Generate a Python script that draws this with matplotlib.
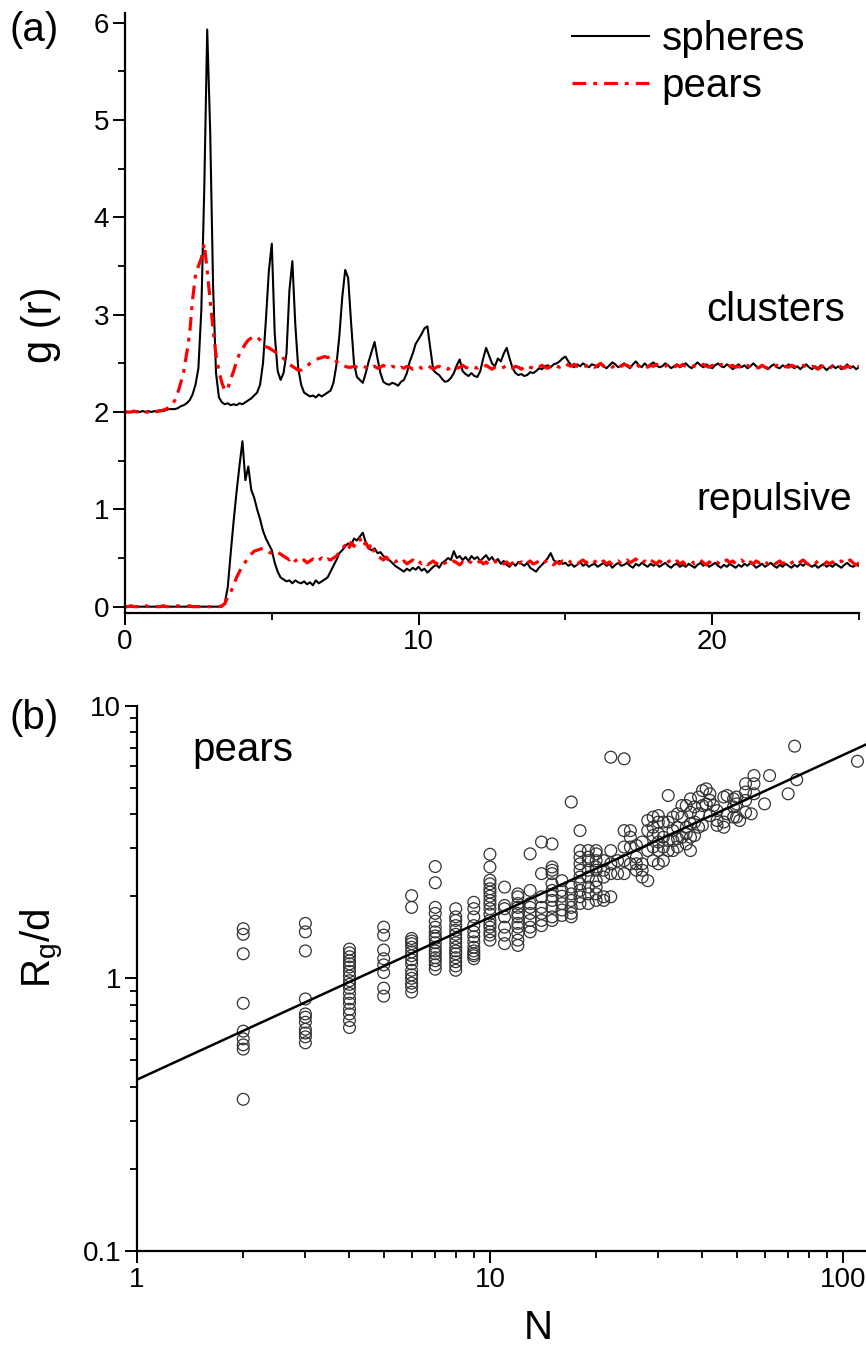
import numpy as np
import matplotlib
matplotlib.use("Agg")
import matplotlib.pyplot as plt
from matplotlib.ticker import MultipleLocator, LogLocator, NullFormatter, FixedLocator, FixedFormatter

plt.rcParams["font.family"] = ["Liberation Sans", "DejaVu Sans"]
plt.rcParams["mathtext.default"] = "regular"

RED = "#ff0000"

# ── (a) g(r), sampled every 0.1 from r = 0 to 25 ─────────────────────────────
r = np.round(np.arange(0, 25.01, 0.1), 2)

g_sph_clu = [
    2.00, 2.00, 2.00, 2.00, 2.01, 2.00, 2.01, 2.00, 2.01, 2.00,
    2.01, 2.00, 2.02, 2.01, 2.02, 2.03, 2.03, 2.03, 2.04, 2.06,
    2.07, 2.09, 2.12, 2.18, 2.28, 2.45, 3.05, 4.30, 5.93, 4.90,
    3.30, 2.40, 2.15, 2.10, 2.08, 2.09, 2.07, 2.08, 2.07, 2.09,
    2.08, 2.10, 2.12, 2.14, 2.17, 2.20, 2.28, 2.50, 2.95, 3.45,
    3.73, 2.80, 2.42, 2.33, 2.40, 2.60, 3.25, 3.55, 2.90, 2.45,
    2.28, 2.20, 2.18, 2.16, 2.17, 2.15, 2.18, 2.16, 2.18, 2.20,
    2.22, 2.30, 2.48, 2.78, 3.18, 3.46, 3.38, 2.92, 2.50, 2.36,
    2.33, 2.30, 2.40, 2.52, 2.62, 2.72, 2.55, 2.40, 2.31, 2.29,
    2.28, 2.30, 2.29, 2.27, 2.31, 2.33, 2.40, 2.52, 2.60, 2.70,
    2.75, 2.80, 2.86, 2.88, 2.65, 2.43, 2.40, 2.38, 2.34, 2.31,
    2.32, 2.35, 2.40, 2.48, 2.54, 2.42, 2.39, 2.37, 2.40, 2.37,
    2.36, 2.42, 2.55, 2.66, 2.58, 2.50, 2.47, 2.55, 2.52, 2.60,
    2.66, 2.55, 2.45, 2.40, 2.38, 2.39, 2.37, 2.38, 2.41, 2.40,
    2.42, 2.45, 2.44, 2.47, 2.48, 2.46, 2.49, 2.50, 2.52, 2.55,
    2.57, 2.52, 2.48, 2.46, 2.49, 2.47, 2.50, 2.48, 2.46, 2.49,
    2.48, 2.46, 2.50, 2.47, 2.45, 2.48, 2.51, 2.49, 2.46, 2.48,
    2.50, 2.47, 2.45, 2.49, 2.52, 2.48, 2.46, 2.50, 2.47, 2.49,
    2.51, 2.48, 2.46, 2.47, 2.50, 2.48, 2.45, 2.47, 2.49, 2.46,
    2.48, 2.50, 2.47, 2.45, 2.48, 2.51, 2.48, 2.46, 2.49, 2.47,
    2.45, 2.48, 2.50, 2.47, 2.46, 2.49, 2.47, 2.44, 2.47, 2.49,
    2.46, 2.48, 2.45, 2.47, 2.50, 2.47, 2.45, 2.48, 2.46, 2.44,
    2.47, 2.49, 2.46, 2.45, 2.48, 2.46, 2.49, 2.47, 2.45, 2.47,
    2.44, 2.47, 2.49, 2.46, 2.44, 2.47, 2.45, 2.48, 2.46, 2.43,
    2.46, 2.48, 2.45, 2.47, 2.44, 2.46, 2.49, 2.45, 2.47, 2.44,
    2.46,
]

g_pear_clu = [
    2.00, 2.00, 2.00, 2.01, 2.00, 2.00, 2.01, 2.00, 2.00, 2.01,
    2.00, 2.01, 2.01, 2.02, 2.03, 2.05, 2.08, 2.12, 2.20, 2.30,
    2.42, 2.60, 2.80, 3.15, 3.40, 3.50, 3.58, 3.73, 3.45, 3.15,
    2.85, 2.58, 2.42, 2.30, 2.22, 2.24, 2.34, 2.42, 2.52, 2.60,
    2.65, 2.70, 2.74, 2.76, 2.78, 2.77, 2.74, 2.70, 2.67, 2.66,
    2.64, 2.62, 2.60, 2.58, 2.55, 2.52, 2.49, 2.47, 2.45, 2.43,
    2.43, 2.45, 2.47, 2.50, 2.52, 2.54, 2.55, 2.56, 2.57, 2.56,
    2.57, 2.55, 2.52, 2.50, 2.48, 2.47, 2.46, 2.46, 2.47, 2.46,
    2.45, 2.47, 2.46, 2.44, 2.46, 2.47, 2.45, 2.46, 2.48, 2.46,
    2.45, 2.47, 2.46, 2.44, 2.46, 2.45, 2.47, 2.46, 2.44, 2.46,
    2.47, 2.45, 2.46, 2.48, 2.46, 2.44, 2.46, 2.47, 2.45, 2.46,
    2.44, 2.46, 2.47, 2.45, 2.46, 2.48, 2.46, 2.45, 2.47, 2.46,
    2.45, 2.47, 2.46, 2.48, 2.46, 2.44, 2.46, 2.47, 2.45, 2.46,
    2.48, 2.46, 2.45, 2.47, 2.46, 2.44, 2.46, 2.48, 2.46, 2.45,
    2.47, 2.46, 2.48, 2.46, 2.45, 2.47, 2.49, 2.47, 2.46, 2.48,
    2.50, 2.48, 2.47, 2.49, 2.47, 2.46, 2.48, 2.47, 2.49, 2.47,
    2.46, 2.48, 2.50, 2.47, 2.49, 2.48, 2.46, 2.48, 2.50, 2.47,
    2.49, 2.48, 2.46, 2.48, 2.50, 2.47, 2.49, 2.48, 2.46, 2.48,
    2.47, 2.49, 2.48, 2.46, 2.47, 2.49, 2.48, 2.46, 2.48, 2.47,
    2.49, 2.47, 2.46, 2.48, 2.47, 2.45, 2.47, 2.49, 2.47, 2.46,
    2.48, 2.46, 2.47, 2.49, 2.47, 2.45, 2.47, 2.48, 2.46, 2.47,
    2.45, 2.47, 2.48, 2.46, 2.47, 2.45, 2.46, 2.48, 2.46, 2.45,
    2.47, 2.46, 2.48, 2.46, 2.45, 2.47, 2.46, 2.48, 2.47, 2.45,
    2.46, 2.48, 2.46, 2.45, 2.47, 2.46, 2.44, 2.46, 2.48, 2.46,
    2.45, 2.47, 2.46, 2.48, 2.46, 2.45, 2.47, 2.46, 2.48, 2.46,
    2.47,
]

g_sph_rep = [
    0.00, 0.00, 0.00, 0.00, 0.00, 0.00, 0.00, 0.00, 0.00, 0.00,
    0.00, 0.00, 0.00, 0.00, 0.00, 0.00, 0.00, 0.00, 0.00, 0.00,
    0.00, 0.00, 0.00, 0.00, 0.00, 0.00, 0.00, 0.00, 0.00, 0.00,
    0.00, 0.00, 0.00, 0.00, 0.04, 0.20, 0.55, 0.88, 1.18, 1.45,
    1.70, 1.30, 1.44, 1.20, 1.12, 1.00, 0.90, 0.78, 0.70, 0.64,
    0.58, 0.45, 0.36, 0.30, 0.28, 0.26, 0.27, 0.24, 0.27, 0.25,
    0.24, 0.26, 0.23, 0.25, 0.22, 0.27, 0.24, 0.26, 0.28, 0.30,
    0.36, 0.42, 0.48, 0.55, 0.58, 0.62, 0.65, 0.63, 0.70, 0.68,
    0.72, 0.76, 0.66, 0.60, 0.58, 0.60, 0.55, 0.56, 0.52, 0.50,
    0.48, 0.45, 0.42, 0.40, 0.38, 0.36, 0.39, 0.37, 0.40, 0.38,
    0.41, 0.37, 0.39, 0.35, 0.38, 0.41, 0.43, 0.40, 0.45, 0.47,
    0.50, 0.48, 0.57, 0.50, 0.52, 0.48, 0.51, 0.47, 0.52, 0.49,
    0.51, 0.47, 0.50, 0.53, 0.48, 0.51, 0.46, 0.49, 0.44, 0.47,
    0.43, 0.41, 0.45, 0.42, 0.46, 0.44, 0.42, 0.45, 0.40, 0.38,
    0.36, 0.40, 0.43, 0.46, 0.50, 0.55, 0.48, 0.45, 0.47, 0.44,
    0.45, 0.42, 0.44, 0.41, 0.43, 0.46, 0.42, 0.44, 0.41, 0.43,
    0.44, 0.41, 0.43, 0.45, 0.42, 0.44, 0.40, 0.43, 0.45, 0.42,
    0.43, 0.45, 0.42, 0.40, 0.44, 0.42, 0.45, 0.43, 0.41, 0.44,
    0.42, 0.44, 0.41, 0.43, 0.45, 0.42, 0.40, 0.43, 0.44, 0.41,
    0.43, 0.41, 0.44, 0.42, 0.40, 0.43, 0.45, 0.42, 0.44, 0.41,
    0.43, 0.45, 0.42, 0.40, 0.43, 0.41, 0.44, 0.42, 0.40, 0.43,
    0.41, 0.44, 0.42, 0.45, 0.43, 0.40, 0.42, 0.44, 0.41, 0.43,
    0.45, 0.42, 0.40, 0.43, 0.41, 0.44, 0.42, 0.40, 0.43, 0.41,
    0.44, 0.42, 0.45, 0.43, 0.41, 0.43, 0.40, 0.42, 0.44, 0.41,
    0.43, 0.41, 0.44, 0.42, 0.40, 0.43, 0.45, 0.42, 0.41, 0.43,
    0.42,
]

g_pear_rep = [
    0.00, 0.00, 0.01, 0.00, 0.00, 0.00, 0.00, 0.01, 0.00, 0.00,
    0.00, 0.00, 0.00, 0.01, 0.00, 0.00, 0.00, 0.00, 0.01, 0.00,
    0.00, 0.00, 0.01, 0.00, 0.00, 0.00, 0.00, 0.00, 0.00, 0.00,
    0.00, 0.00, 0.00, 0.01, 0.03, 0.10, 0.15, 0.22, 0.30, 0.36,
    0.42, 0.46, 0.50, 0.54, 0.57, 0.58, 0.59, 0.60, 0.58, 0.56,
    0.55, 0.57, 0.56, 0.54, 0.52, 0.50, 0.48, 0.51, 0.47, 0.49,
    0.46, 0.48, 0.45, 0.47, 0.49, 0.46, 0.48, 0.50, 0.47, 0.49,
    0.48, 0.50, 0.52, 0.56, 0.60, 0.63, 0.58, 0.66, 0.62, 0.68,
    0.70, 0.62, 0.66, 0.60, 0.65, 0.55, 0.52, 0.50, 0.48, 0.51,
    0.47, 0.49, 0.46, 0.48, 0.45, 0.47, 0.44, 0.46, 0.48, 0.45,
    0.47, 0.44, 0.46, 0.43, 0.45, 0.47, 0.44, 0.46, 0.43, 0.45,
    0.46, 0.44, 0.47, 0.45, 0.43, 0.46, 0.44, 0.47, 0.45, 0.43,
    0.45, 0.47, 0.44, 0.46, 0.43, 0.45, 0.47, 0.44, 0.46, 0.44,
    0.46, 0.43, 0.45, 0.47, 0.44, 0.46, 0.43, 0.45, 0.47, 0.44,
    0.45, 0.47, 0.44, 0.46, 0.48, 0.45, 0.43, 0.46, 0.44, 0.47,
    0.46, 0.48, 0.45, 0.47, 0.44, 0.46, 0.48, 0.45, 0.47, 0.49,
    0.46, 0.48, 0.45, 0.47, 0.44, 0.46, 0.43, 0.45, 0.47, 0.44,
    0.46, 0.48, 0.45, 0.47, 0.49, 0.46, 0.44, 0.47, 0.45, 0.48,
    0.46, 0.44, 0.47, 0.45, 0.43, 0.46, 0.48, 0.45, 0.47, 0.44,
    0.46, 0.43, 0.45, 0.47, 0.44, 0.46, 0.48, 0.45, 0.43, 0.46,
    0.44, 0.47, 0.45, 0.43, 0.46, 0.48, 0.45, 0.47, 0.44, 0.46,
    0.48, 0.45, 0.43, 0.46, 0.44, 0.47, 0.45, 0.48, 0.46, 0.44,
    0.46, 0.43, 0.45, 0.47, 0.44, 0.46, 0.43, 0.45, 0.47, 0.44,
    0.46, 0.48, 0.45, 0.43, 0.46, 0.44, 0.47, 0.45, 0.43, 0.46,
    0.44, 0.46, 0.43, 0.45, 0.47, 0.44, 0.46, 0.48, 0.45, 0.43,
    0.45,
]

# ── (b) Rg/d vs cluster size N (pears) ───────────────────────────────────────
n_groups = [2, 3, 4, 5, 6, 7, 8, 9, 10, 11, 12, 13, 14, 15, 16, 17, 18, 19, 20,
            21, 22, 23, 24, 25, 26, 27, 28, 29, 30, 31, 32, 33, 34, 35, 36, 37,
            38, 39, 40, 41, 42, 43, 44, 46, 47, 49, 50, 51, 53, 55, 56, 60, 62,
            70, 73, 74, 110]
rg_groups = [
    [1.52, 1.45, 1.23, 0.81, 0.64, 0.60, 0.57, 0.55, 0.36],
    [1.59, 1.48, 1.26, 0.84, 0.74, 0.72, 0.69, 0.65, 0.63, 0.61, 0.58],
    [1.28, 1.24, 1.20, 1.16, 1.13, 1.10, 1.06, 1.02, 0.98, 0.95, 0.92, 0.88,
     0.84, 0.81, 0.77, 0.74, 0.70, 0.66],
    [1.54, 1.44, 1.27, 1.18, 1.12, 1.05, 0.92, 0.86],
    [2.01, 1.82, 1.40, 1.37, 1.34, 1.30, 1.25, 1.21, 1.17, 1.13, 1.07, 1.03,
     1.00, 0.96, 0.93, 0.89],
    [2.57, 2.24, 1.82, 1.73, 1.62, 1.54, 1.48, 1.43, 1.40, 1.35, 1.30, 1.26,
     1.23, 1.19, 1.16, 1.12, 1.08],
    [1.80, 1.68, 1.63, 1.56, 1.50, 1.45, 1.40, 1.35, 1.30, 1.26, 1.23, 1.19,
     1.15, 1.11, 1.07],
    [1.90, 1.80, 1.68, 1.56, 1.48, 1.42, 1.36, 1.30, 1.26, 1.23, 1.21, 1.18],
    [2.85, 2.56, 2.29, 2.22, 2.13, 2.07, 2.00, 1.93, 1.87, 1.80, 1.72, 1.63,
     1.58, 1.54, 1.48, 1.44, 1.38],
    [2.16, 1.85, 1.80, 1.68, 1.54, 1.44, 1.34],
    [2.04, 1.99, 1.88, 1.82, 1.73, 1.68, 1.59, 1.54, 1.46, 1.38, 1.32],
    [2.86, 2.10, 1.88, 1.82, 1.73, 1.63, 1.54, 1.48],
    [3.16, 2.42, 1.99, 1.82, 1.73, 1.63, 1.56],
    [3.11, 2.56, 2.49, 2.42, 2.22, 2.10, 2.00, 1.93, 1.82, 1.68, 1.63],
    [2.28, 2.10, 2.00, 1.88, 1.78, 1.70],
    [4.43, 2.16, 2.04, 1.93, 1.82, 1.73, 1.68],
    [3.48, 2.94, 2.78, 2.63, 2.49, 2.35, 2.22, 2.10, 1.99, 1.88],
    [2.94, 2.78, 2.70, 2.49, 2.35, 2.16, 2.04, 1.88],
    [2.94, 2.86, 2.70, 2.56, 2.49, 2.28, 2.16, 2.04, 1.93],
    [2.70, 2.49, 2.35, 1.99, 1.93],
    [6.47, 2.94, 2.63, 2.42, 1.99],
    [2.70, 2.42],
    [6.38, 3.48, 3.03, 2.70, 2.42],
    [3.48, 3.29, 3.03, 2.63],
    [3.07, 2.78, 2.63, 2.49],
    [3.16, 2.63, 2.49, 2.35],
    [3.79, 3.48, 2.94, 2.28],
    [3.90, 3.58, 3.34, 3.03, 2.70],
    [3.95, 3.74, 3.39, 3.16, 2.94, 2.63],
    [3.74, 3.29, 3.03, 2.70],
    [4.68, 3.74, 3.20, 2.94],
    [3.90, 3.48, 3.20, 2.94],
    [4.01, 3.58, 3.25, 3.03],
    [4.30, 3.90, 3.29],
    [4.30, 3.58, 3.39, 3.11],
    [4.55, 4.06, 3.69, 3.29, 2.94],
    [4.25, 3.74, 3.34],
    [4.62, 4.01, 3.58],
    [4.88, 4.30, 3.64],
    [4.95, 4.36],
    [4.75, 4.49, 3.95],
    [4.30],
    [4.12, 3.79, 3.64],
    [4.62, 3.74, 3.58],
    [4.68, 4.01],
    [4.55, 4.25, 3.90],
    [4.62, 4.36, 3.90],
    [3.79],
    [5.17, 4.82, 4.49, 4.06],
    [4.01],
    [5.54, 5.17, 4.75],
    [4.36],
    [5.54],
    [4.75],
    [7.10],
    [5.35],
    [6.25],
]
fit_pref = 0.425     # Rg/d = A * N^nu
fit_nu = 0.595

n_pts = np.concatenate([[n] * len(v) for n, v in zip(n_groups, rg_groups)])
rg_pts = np.concatenate(rg_groups)

W, H = 866, 1345
fig = plt.figure(figsize=(W / 100, H / 100), dpi=100)


def style(ax):
    for s in ("top", "right"):
        ax.spines[s].set_visible(False)
    for s in ("left", "bottom"):
        ax.spines[s].set_linewidth(1.6)
    ax.tick_params(which="major", direction="out", length=8.5, width=1.4,
                   labelsize=20, pad=3)
    ax.tick_params(which="minor", direction="out", length=5, width=1.3)


# ── panel (a) ──
ax1 = fig.add_axes([125 / W, 1 - 613 / H, 734 / W, 600 / H])
ax1.plot(r, g_sph_clu, color="black", lw=1.5, label="spheres")
ax1.plot(r, g_sph_rep, color="black", lw=1.5)
ax1.plot(r, g_pear_clu, color=RED, lw=2.3, dashes=(4.3, 2.2, 1.2, 2.2), label="pears")
ax1.plot(r, g_pear_rep, color=RED, lw=2.3, dashes=(4.3, 2.2, 1.2, 2.2))
ax1.set_xlim(0, 25)
ax1.set_ylim(-0.065, 6.1)
ax1.xaxis.set_major_locator(MultipleLocator(10))
ax1.xaxis.set_minor_locator(MultipleLocator(5))
ax1.yaxis.set_major_locator(MultipleLocator(1))
ax1.yaxis.set_minor_locator(MultipleLocator(0.5))
style(ax1)
ax1.set_ylabel("g (r)", fontsize=30, va="center")
ax1.yaxis.set_label_coords((41 - 125) / 734, (613 - 325) / 600)
ax1.legend(loc="upper left", bbox_to_anchor=(572 / W, 1 - 20 / H),
           bbox_transform=fig.transFigure, frameon=False, fontsize=29,
           handlelength=1.9, handletextpad=0.32, labelspacing=0.22,
           borderpad=0, borderaxespad=0)

fig.text(10 / W, 1 - 30 / H, "(a)", fontsize=29, va="center", ha="left")
fig.text(845 / W, 1 - 310 / H, "clusters", fontsize=29, va="center", ha="right")
fig.text(852 / W, 1 - 500 / H, "repulsive", fontsize=28, va="center", ha="right")

# ── panel (b) ──
ax2 = fig.add_axes([137 / W, 1 - 1251 / H, 729 / W, 545.4 / H])
ax2.set_xscale("log")
ax2.set_yscale("log")
ax2.scatter(n_pts, rg_pts, s=72, facecolors="none", edgecolors="#333333",
            linewidths=0.9, zorder=3)
nfit = np.array([1.0, 116.3])
ax2.plot(nfit, fit_pref * nfit ** fit_nu, color="black", lw=1.8, zorder=4)
ax2.set_xlim(1, 116.3)
ax2.set_ylim(0.1, 10)
ax2.xaxis.set_major_locator(FixedLocator([1, 10, 100]))
ax2.xaxis.set_major_formatter(FixedFormatter(["1", "10", "100"]))
ax2.xaxis.set_minor_locator(LogLocator(base=10, subs=np.arange(2, 10)))
ax2.xaxis.set_minor_formatter(NullFormatter())
ax2.yaxis.set_major_locator(FixedLocator([0.1, 1, 10]))
ax2.yaxis.set_major_formatter(FixedFormatter(["0.1", "1", "10"]))
ax2.yaxis.set_minor_locator(LogLocator(base=10, subs=np.arange(2, 10)))
ax2.yaxis.set_minor_formatter(NullFormatter())
style(ax2)
ax2.set_xlabel("N", fontsize=29, va="center")
ax2.xaxis.set_label_coords((538 - 137) / 729, (1251 - 1328) / 545.4)
ax2.set_ylabel(r"R$_{g}$/d", fontsize=29, va="center")
ax2.yaxis.set_label_coords((42 - 137) / 729, (1251 - 948) / 545.4)

fig.text(10 / W, 1 - 718 / H, "(b)", fontsize=29, va="center", ha="left")
fig.text(192 / W, 1 - 750 / H, "pears", fontsize=29, va="center", ha="left")

fig.savefig("out.png", dpi=100)
